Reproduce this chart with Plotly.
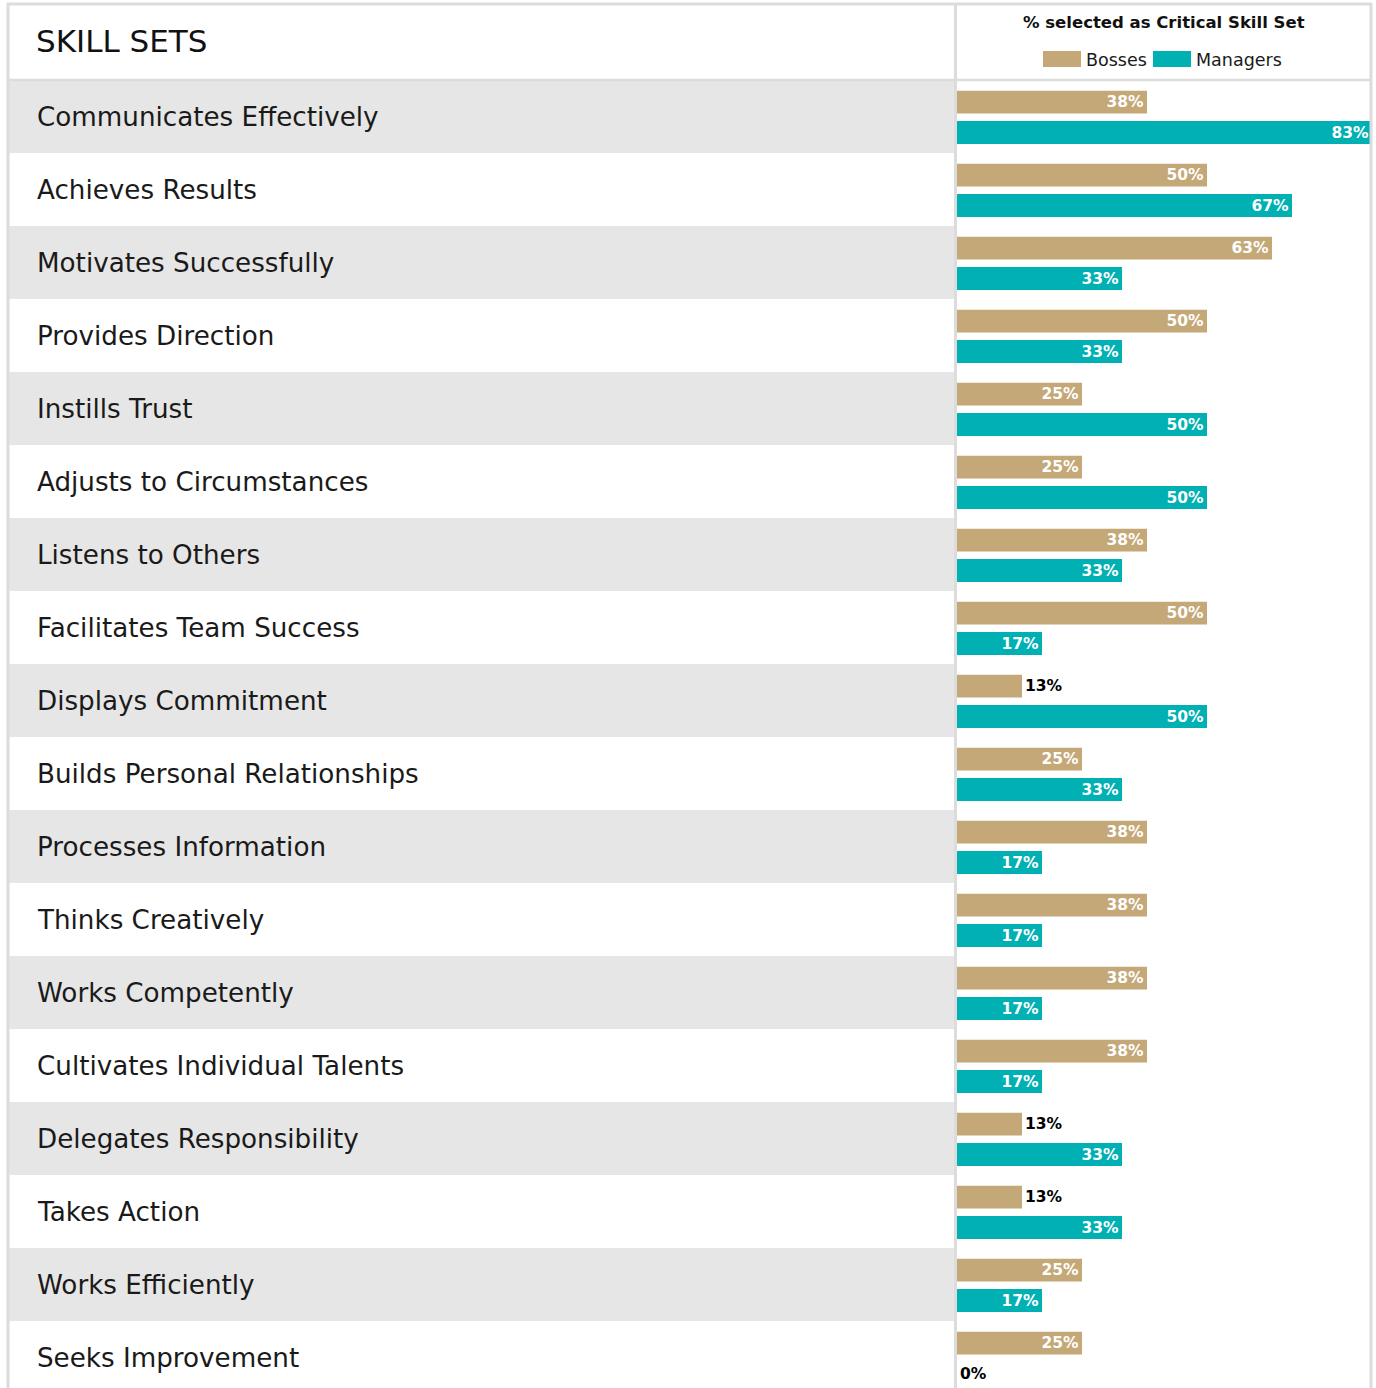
import plotly.graph_objects as go

# ---------------- data ----------------
skills = [
    "Communicates Effectively", "Achieves Results", "Motivates Successfully",
    "Provides Direction", "Instills Trust", "Adjusts to Circumstances",
    "Listens to Others", "Facilitates Team Success", "Displays Commitment",
    "Builds Personal Relationships", "Processes Information", "Thinks Creatively",
    "Works Competently", "Cultivates Individual Talents", "Delegates Responsibility",
    "Takes Action", "Works Efficiently", "Seeks Improvement",
]
bosses = [38, 50, 63, 50, 25, 25, 38, 50, 13, 25, 38, 38, 38, 38, 13, 13, 25, 25]
managers = [83, 67, 33, 33, 50, 50, 33, 17, 50, 33, 17, 17, 17, 17, 33, 33, 17, 0]
series_names = ["Bosses", "Managers"]
header_left = "SKILL SETS"
header_right = "% selected as Critical Skill Set"

# ---------------- style ----------------
TAN = "#C4A877"
TEAL = "#00B0B3"
ROWGREY = "#E6E6E6"
BORDER = "#DCDCDC"
FONT = "DejaVu Sans"

W, H = 1376, 1388
L, R, T, B = 957, 4, 80, 0
PW, PH = W - L - R, H - T - B
ROW = 73.0


def px(X):
    return (X - L) / PW


def py(Y):
    return (H - B - Y) / PH


def positions(vals):
    return ["inside" if v >= 15 else "outside" for v in vals]


fig = go.Figure()
fig.add_trace(go.Bar(
    name=series_names[0], y=skills, x=bosses, orientation="h",
    marker=dict(color=TAN, line=dict(width=0)),
    width=0.311, offset=-0.353,
    texttemplate="%{x}%", textposition=positions(bosses),
    insidetextanchor="end", constraintext="none", cliponaxis=False,
    insidetextfont=dict(family=FONT, size=15.5, color="white", weight=700),
    outsidetextfont=dict(family=FONT, size=15.5, color="black", weight=700),
    hoverinfo="skip",
))
fig.add_trace(go.Bar(
    name=series_names[1], y=skills, x=managers, orientation="h",
    marker=dict(color=TEAL, line=dict(width=0)),
    width=0.315, offset=0.062,
    texttemplate="%{x}%", textposition=positions(managers),
    insidetextanchor="end", constraintext="none", cliponaxis=False,
    insidetextfont=dict(family=FONT, size=15.5, color="white", weight=700),
    outsidetextfont=dict(family=FONT, size=15.5, color="black", weight=700),
    hoverinfo="skip",
))

shapes = []
annotations = []
for i, s in enumerate(skills):
    if i % 2 == 0:
        shapes.append(dict(type="rect", xref="paper", yref="y",
                           x0=px(9), x1=px(954), y0=i - 0.5, y1=i + 0.5,
                           fillcolor=ROWGREY, line=dict(width=0), layer="below"))
    annotations.append(dict(text=s, xref="paper", yref="y", x=px(35), y=i,
                            xanchor="left", yanchor="middle", showarrow=False,
                            font=dict(family=FONT, size=26.2, color="#1a1a1a")))

# borders
shapes += [
    dict(type="line", xref="paper", yref="paper", x0=px(7), x1=px(1372), y0=py(4), y1=py(4),
         line=dict(color=BORDER, width=3), layer="above"),
    dict(type="line", xref="paper", yref="paper", x0=px(8), x1=px(8), y0=py(3), y1=py(1390),
         line=dict(color=BORDER, width=3), layer="above"),
    dict(type="line", xref="paper", yref="paper", x0=px(1371), x1=px(1371), y0=py(3), y1=py(1390),
         line=dict(color=BORDER, width=3), layer="above"),
    dict(type="line", xref="paper", yref="paper", x0=px(955.5), x1=px(955.5), y0=py(3), y1=py(1390),
         line=dict(color=BORDER, width=3), layer="above"),
    dict(type="line", xref="paper", yref="paper", x0=px(8), x1=px(1372), y0=py(80), y1=py(80),
         line=dict(color=BORDER, width=2.5), layer="above"),
]

# legend swatches
shapes += [
    dict(type="rect", xref="paper", yref="paper", x0=px(1043), x1=px(1081), y0=py(51), y1=py(67),
         fillcolor=TAN, line=dict(width=0)),
    dict(type="rect", xref="paper", yref="paper", x0=px(1153), x1=px(1191), y0=py(51), y1=py(67),
         fillcolor=TEAL, line=dict(width=0)),
]
annotations += [
    dict(text=series_names[0], xref="paper", yref="paper", x=px(1084), y=py(59.5),
         xanchor="left", yanchor="middle", showarrow=False,
         font=dict(family=FONT, size=17.5, color="#1a1a1a")),
    dict(text=series_names[1], xref="paper", yref="paper", x=px(1194), y=py(59.5),
         xanchor="left", yanchor="middle", showarrow=False,
         font=dict(family=FONT, size=17.5, color="#1a1a1a")),
    dict(text=header_right, xref="paper", yref="paper", x=px(1164), y=py(22.5),
         xanchor="center", yanchor="middle", showarrow=False,
         font=dict(family=FONT, size=16.5, color="#111", weight=700)),
    dict(text=header_left, xref="paper", yref="paper", x=px(34), y=py(40.5),
         xanchor="left", yanchor="middle", showarrow=False,
         font=dict(family=FONT, size=31, color="#111")),
]

fig.update_layout(
    width=W, height=H,
    margin=dict(l=L, r=R, t=T, b=B, pad=0),
    paper_bgcolor="white", plot_bgcolor="white",
    barmode="overlay", showlegend=False,
    xaxis=dict(range=[0, 83], visible=False, fixedrange=True),
    yaxis=dict(type="category", categoryorder="array", categoryarray=skills,
               range=[-0.5 + PH / ROW, -0.5], visible=False, fixedrange=True),
    shapes=shapes, annotations=annotations,
    font=dict(family=FONT),
)

fig.write_html("out.html", config={"displayModeBar": False},
               post_script="document.body.style.margin='0';")
